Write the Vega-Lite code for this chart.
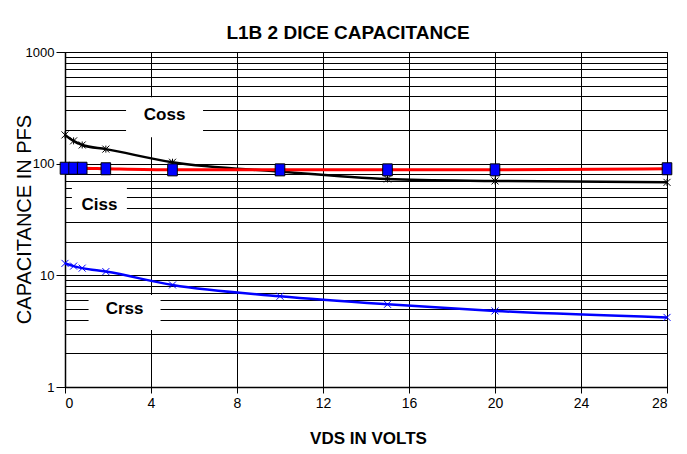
{
  "$schema": "https://vega.github.io/schema/vega-lite/v6.json",
  "width": 602,
  "height": 335,
  "autosize": {"type": "none"},
  "padding": {"left": 65, "top": 52, "right": 20, "bottom": 67},
  "background": "white",
  "title": {
    "text": "L1B 2 DICE CAPACITANCE",
    "font": "Liberation Sans",
    "fontSize": 19,
    "fontWeight": "bold",
    "color": "#000000",
    "anchor": "middle",
    "frame": "group",
    "baseline": "alphabetic",
    "dx": -18,
    "dy": 26,
    "offset": 14
  },
  "config": {
    "view": {"stroke": "#000000", "strokeWidth": 1},
    "axis": {
      "gridColor": "#000000",
      "gridOpacity": 1,
      "gridWidth": 1,
      "domainColor": "#000000",
      "domainWidth": 1.5,
      "tickColor": "#000000",
      "labelColor": "#000000",
      "titleColor": "#000000",
      "labelFont": "Liberation Sans",
      "labelFontSize": 14,
      "labelOverlap": false,
      "labelBound": false
    }
  },
  "datasets": {
    "curves": [
      {"series": "Coss", "vds": 0, "cap": 181},
      {"series": "Coss", "vds": 0.4, "cap": 160},
      {"series": "Coss", "vds": 0.8, "cap": 147},
      {"series": "Coss", "vds": 1.9, "cap": 135},
      {"series": "Coss", "vds": 5, "cap": 103},
      {"series": "Coss", "vds": 10, "cap": 85},
      {"series": "Coss", "vds": 15, "cap": 73},
      {"series": "Coss", "vds": 20, "cap": 70},
      {"series": "Coss", "vds": 28, "cap": 68},
      {"series": "Ciss", "vds": 0, "cap": 91},
      {"series": "Ciss", "vds": 0.4, "cap": 91},
      {"series": "Ciss", "vds": 0.8, "cap": 91},
      {"series": "Ciss", "vds": 1.9, "cap": 90},
      {"series": "Ciss", "vds": 5, "cap": 88},
      {"series": "Ciss", "vds": 10, "cap": 88},
      {"series": "Ciss", "vds": 15, "cap": 88},
      {"series": "Ciss", "vds": 20, "cap": 88},
      {"series": "Ciss", "vds": 28, "cap": 90},
      {"series": "Crss", "vds": 0, "cap": 12.8},
      {"series": "Crss", "vds": 0.4, "cap": 12.1},
      {"series": "Crss", "vds": 0.8, "cap": 11.6},
      {"series": "Crss", "vds": 1.9, "cap": 10.8},
      {"series": "Crss", "vds": 5, "cap": 8.2},
      {"series": "Crss", "vds": 10, "cap": 6.5},
      {"series": "Crss", "vds": 15, "cap": 5.5},
      {"series": "Crss", "vds": 20, "cap": 4.8},
      {"series": "Crss", "vds": 28, "cap": 4.2}
    ],
    "labels": [
      {"label": "Coss", "vds": 4.63, "cap": 270, "boxVds": 4.63, "boxCap": 261},
      {"label": "Ciss", "vds": 1.6, "cap": 43, "boxVds": 1.6, "boxCap": 46.3},
      {"label": "Crss", "vds": 2.77, "cap": 5.0, "boxVds": 2.77, "boxCap": 4.65}
    ]
  },
  "layer": [
    {
      "data": {"name": "labels"},
      "transform": [{"filter": "datum.label == 'Coss'"}],
      "mark": {"type": "rect", "width": 77, "height": 40, "fill": "white", "stroke": null},
      "encoding": {
        "x": {
          "field": "boxVds", "type": "quantitative",
          "scale": {"domain": [0, 28], "nice": false, "zero": false},
          "axis": {
            "values": [0, 4, 8, 12, 16, 20, 24, 28],
            "title": "VDS IN VOLTS",
            "titleFont": "Liberation Sans",
            "titleFontSize": 17,
            "titleFontWeight": "bold",
            "titleBaseline": "alphabetic",
            "titleX": 303,
            "titleY": 56,
            "tickSize": 6,
            "labelPadding": 3,
            "grid": true
          }
        },
        "y": {
          "field": "boxCap", "type": "quantitative",
          "scale": {"type": "log", "domain": [1, 1000], "nice": false},
          "axis": {
            "values": [1, 2, 3, 4, 5, 6, 7, 8, 9, 10, 20, 30, 40, 50, 60, 70, 80, 90, 100, 200, 300, 400, 500, 600, 700, 800, 900, 1000],
            "labelExpr": "indexof([1, 10, 100, 1000], datum.value) >= 0 ? datum.value : ''",
            "tickOpacity": {"condition": {"test": "indexof([1, 10, 100, 1000], datum.value) >= 0", "value": 1}, "value": 0},
            "tickSize": 9,
            "labelPadding": 2,
            "labelFontSize": 13,
            "grid": true,
            "title": "CAPACITANCE IN PFS",
            "titleFont": "Liberation Sans",
            "titleFontSize": 20,
            "titleFontWeight": "normal",
            "titleAngle": -90,
            "titleBaseline": "alphabetic",
            "titleAlign": "center",
            "titleX": -35,
            "titleY": 167
          }
        }
      }
    },
    {
      "data": {"name": "labels"},
      "transform": [{"filter": "datum.label == 'Ciss'"}],
      "mark": {"type": "rect", "width": 55, "height": 38, "fill": "white", "stroke": null},
      "encoding": {
        "x": {"field": "boxVds", "type": "quantitative"},
        "y": {"field": "boxCap", "type": "quantitative"}
      }
    },
    {
      "data": {"name": "labels"},
      "transform": [{"filter": "datum.label == 'Crss'"}],
      "mark": {"type": "rect", "width": 72, "height": 35, "fill": "white", "stroke": null},
      "encoding": {
        "x": {"field": "boxVds", "type": "quantitative"},
        "y": {"field": "boxCap", "type": "quantitative"}
      }
    },
    {
      "data": {"name": "labels"},
      "mark": {"type": "text", "font": "Liberation Sans", "fontSize": 17, "fontWeight": "bold", "color": "#000000", "align": "center", "baseline": "middle"},
      "encoding": {
        "x": {"field": "vds", "type": "quantitative"},
        "y": {"field": "cap", "type": "quantitative"},
        "text": {"field": "label"}
      }
    },
    {
      "data": {"name": "curves"},
      "transform": [{"filter": "datum.series == 'Coss'"}],
      "mark": {"type": "line", "interpolate": "monotone", "color": "#000000", "strokeWidth": 2.5},
      "encoding": {
        "x": {"field": "vds", "type": "quantitative"},
        "y": {"field": "cap", "type": "quantitative"}
      }
    },
    {
      "data": {"name": "curves"},
      "transform": [{"filter": "datum.series == 'Crss'"}],
      "mark": {"type": "line", "interpolate": "monotone", "color": "#0000ff", "strokeWidth": 2.5},
      "encoding": {
        "x": {"field": "vds", "type": "quantitative"},
        "y": {"field": "cap", "type": "quantitative"}
      }
    },
    {
      "data": {"name": "curves"},
      "transform": [{"filter": "datum.series == 'Ciss'"}],
      "mark": {"type": "line", "interpolate": "monotone", "color": "#ff0000", "strokeWidth": 3},
      "encoding": {
        "x": {"field": "vds", "type": "quantitative"},
        "y": {"field": "cap", "type": "quantitative"}
      }
    },
    {
      "data": {"name": "curves"},
      "transform": [{"filter": "datum.series == 'Coss'"}],
      "mark": {"type": "point", "shape": "M-1,-1L1,1M-1,1L1,-1M0,-1V1", "size": 49, "filled": false, "stroke": "#000000", "strokeWidth": 1, "opacity": 1},
      "encoding": {
        "x": {"field": "vds", "type": "quantitative"},
        "y": {"field": "cap", "type": "quantitative"}
      }
    },
    {
      "data": {"name": "curves"},
      "transform": [{"filter": "datum.series == 'Crss'"}],
      "mark": {"type": "point", "shape": "M-1,-1L1,1M-1,1L1,-1", "size": 49, "filled": false, "stroke": "#0000ff", "strokeWidth": 1, "opacity": 1},
      "encoding": {
        "x": {"field": "vds", "type": "quantitative"},
        "y": {"field": "cap", "type": "quantitative"}
      }
    },
    {
      "data": {"name": "curves"},
      "transform": [{"filter": "datum.series == 'Ciss'"}],
      "mark": {"type": "point", "shape": "M-0.8,-1H0.8V1H-0.8Z", "size": 144, "filled": true, "fill": "#0000ff", "stroke": "#000000", "strokeWidth": 1, "opacity": 1, "fillOpacity": 1},
      "encoding": {
        "x": {"field": "vds", "type": "quantitative"},
        "y": {"field": "cap", "type": "quantitative"}
      }
    }
  ]
}
